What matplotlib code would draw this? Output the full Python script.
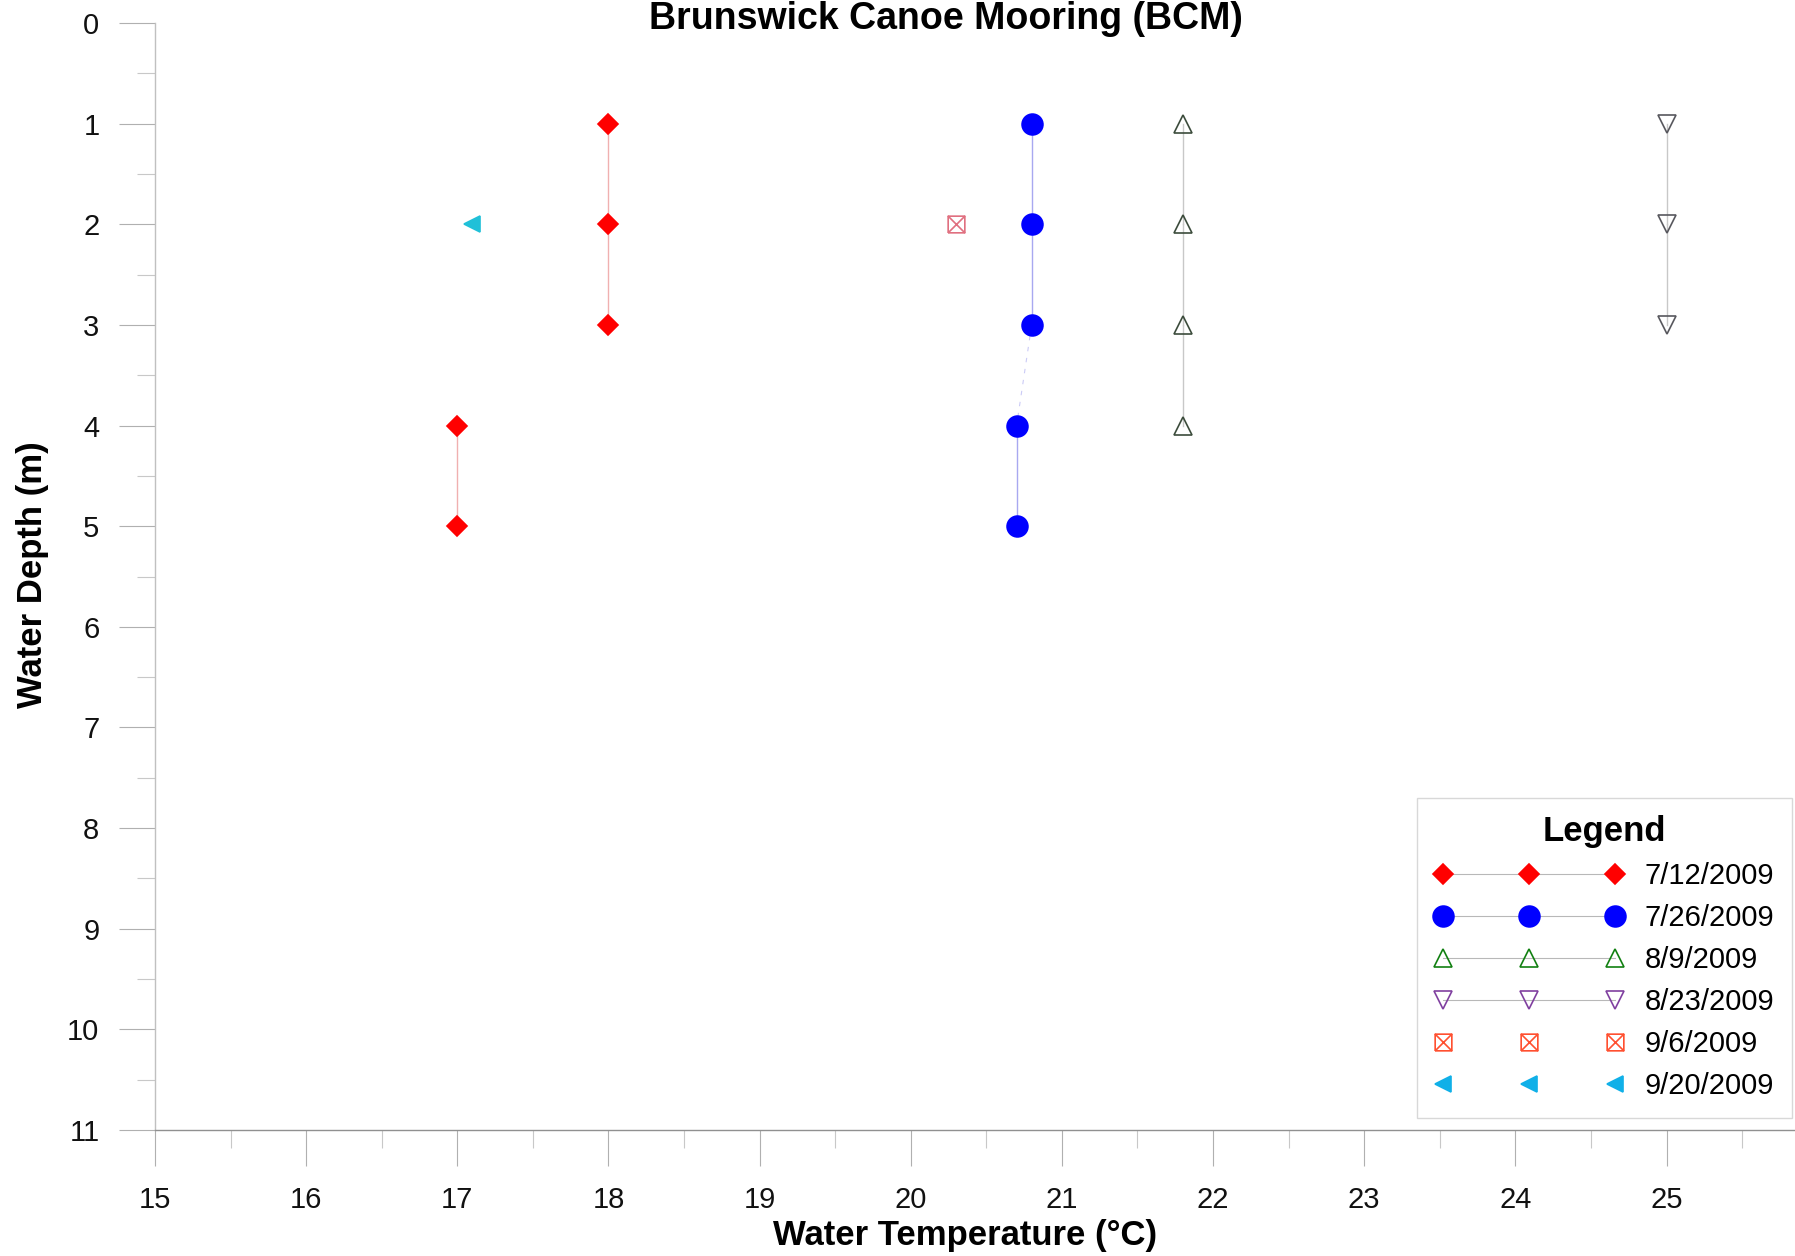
import matplotlib
matplotlib.use("Agg")
import numpy as np
import matplotlib.pyplot as plt
from matplotlib.path import Path
from matplotlib.lines import Line2D

plt.rcParams['font.family'] = ['Liberation Sans', 'DejaVu Sans']

# survey dates and readings (temperature in C, depth in m)
dates = ['7/12/2009', '7/26/2009', '8/9/2009', '8/23/2009', '9/6/2009', '9/20/2009']
temps = [
    [18.0, 18.0, 18.0, 17.0, 17.0],
    [20.8, 20.8, 20.8, 20.7, 20.7],
    [21.8, 21.8, 21.8, 21.8],
    [25.0, 25.0, 25.0],
    [20.3],
    [17.1],
]
depths = [
    [1, 2, 3, 4, 5],
    [1, 2, 3, 4, 5],
    [1, 2, 3, 4],
    [1, 2, 3],
    [2],
    [2],
]

# square with an X through it
box_x = Path([(-1, -1), (1, -1), (1, 1), (-1, 1), (-1, -1), (-1, -1), (1, 1), (-1, 1), (1, -1)],
             [Path.MOVETO, Path.LINETO, Path.LINETO, Path.LINETO, Path.LINETO,
              Path.MOVETO, Path.LINETO, Path.MOVETO, Path.LINETO])

markers = ['D', 'o', '^', 'v', box_x, '<']
sizes = [10.5, 15, 13, 13, 12, 12]
filled = [True, True, False, False, False, True]
plot_colors = ['#ff0000', '#0000ff', '#3c4c3c', '#58585e', '#e07080', '#20c0d8']
legend_colors = ['#ff0000', '#0000ff', '#128012', '#8040a0', '#ff5030', '#10b0e8']
line_colors = ['#f0b0b0', '#a8a8f0', '#c8c8c8', '#c8c8c8', 'none', 'none']

fig = plt.figure(figsize=(17.95, 12.56), dpi=100)
ax = fig.add_axes([155 / 1795, 1 - 1130 / 1256, 1 - 155 / 1795, (1130 - 23) / 1256])

for i in range(len(dates)):
    t, d = temps[i], depths[i]
    # connect consecutive readings that sit on the same temperature
    for k in range(len(t) - 1):
        if t[k] == t[k + 1]:
            ax.plot(t[k:k + 2], d[k:k + 2], color=line_colors[i], lw=1.0, zorder=1)
        elif i == 1:
            ax.plot(t[k:k + 2], d[k:k + 2], color=line_colors[i], lw=0.8,
                    ls=(0, (4, 6)), alpha=0.6, zorder=1)
    mfc = plot_colors[i] if filled[i] else 'none'
    ax.plot(t, d, ls='none', marker=markers[i], ms=sizes[i],
            mfc=mfc, mec=plot_colors[i], mew=1.2, zorder=3)

ax.set_xlim(15, 25.85)
ax.set_ylim(11, 0)
ax.set_xticks(np.arange(15, 26))
ax.set_xticks(np.arange(15.5, 26, 1.0), minor=True)
ax.set_yticks(np.arange(0, 12))
ax.set_yticks(np.arange(0.5, 11, 1.0), minor=True)

for s in ['top', 'right']:
    ax.spines[s].set_visible(False)
ax.spines['left'].set_color('#c0c0c0')
ax.spines['bottom'].set_color('#909090')
ax.spines['left'].set_linewidth(1.0)
ax.spines['bottom'].set_linewidth(1.0)

ax.tick_params(axis='both', which='major', direction='out', length=26, width=0.8,
               color='#b0b0b0', labelsize=21, labelcolor='#111111')
ax.tick_params(axis='both', which='minor', direction='out', length=13, width=0.8,
               color='#c8c8c8')
ax.tick_params(axis='x', which='major', pad=14)
ax.tick_params(axis='y', which='major', pad=14)

fig.text(946 / 1795, 1 - 29 / 1256, 'Brunswick Canoe Mooring (BCM)',
         ha='center', va='baseline', fontsize=27, fontweight='bold')
fig.text(965 / 1795, 1 - 1236 / 1256, 'Water Temperature (\u00b0C)',
         ha='center', va='center', fontsize=25, fontweight='bold')
fig.text(33 / 1795, 1 - 575 / 1256, 'Water Depth (m)', rotation=90,
         ha='center', va='center', fontsize=25, fontweight='bold')

handles = []
for i in range(len(dates)):
    mfc = legend_colors[i] if filled[i] else 'none'
    ls = '-' if line_colors[i] != 'none' else 'none'
    handles.append(Line2D([], [], color='#b8b8b8', lw=0.8, ls=ls, marker=markers[i],
                          ms=sizes[i], mfc=mfc, mec=legend_colors[i], mew=1.2))

leg = ax.legend(handles, dates, loc='upper left',
                bbox_to_anchor=(1417 / 1795, 1 - 798 / 1256), bbox_transform=fig.transFigure,
                numpoints=3, handlelength=6.5, handletextpad=0.7, labelspacing=0.48,
                borderpad=0.6, borderaxespad=0, fontsize=21, fancybox=False,
                edgecolor='#d8d8d8', framealpha=1, title='Legend',
                title_fontproperties={'size': 25, 'weight': 'bold'})
leg.get_frame().set_linewidth(1.0)

fig.savefig('out.png', dpi=100)
